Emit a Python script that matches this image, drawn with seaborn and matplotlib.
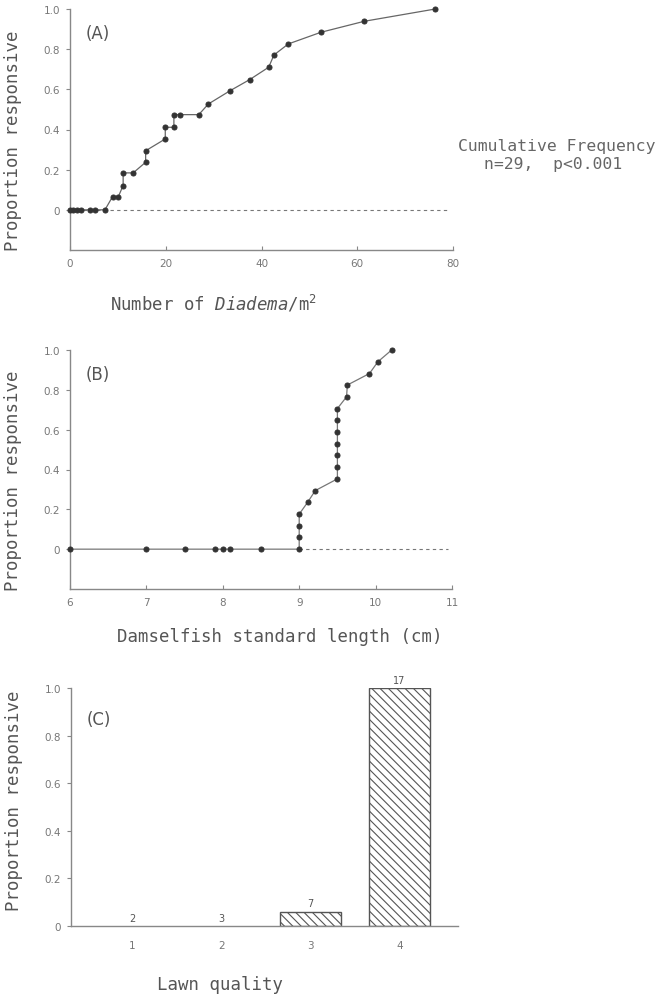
import numpy as np
import pandas as pd
import seaborn as sns
import matplotlib.pyplot as plt

# ---- data ----
# (A) cumulative frequency vs Diadema density
diadema_density = [0, 0.7, 1.5, 2.3, 4.2, 5.2, 7.3, 8.9, 10.1, 11.1, 11.1, 13.2,
                   15.8, 15.8, 19.9, 19.9, 21.7, 21.7, 22.9, 26.9, 28.9, 33.5,
                   37.5, 41.5, 42.6, 45.6, 52.4, 61.5, 76.3]
diadema_prop = [0, 0, 0, 0, 0, 0, 0, 0.066, 0.066, 0.121, 0.184, 0.184,
                0.237, 0.294, 0.353, 0.411, 0.411, 0.474, 0.474, 0.474, 0.527, 0.594,
                0.648, 0.71, 0.771, 0.826, 0.884, 0.939, 1.0]

# (B) cumulative frequency vs damselfish length
fish_length = [6.0, 7.0, 7.5, 7.9, 8.0, 8.1, 8.5, 9.0, 9.0, 9.0, 9.0, 9.11, 9.21,
               9.5, 9.5, 9.5, 9.5, 9.5, 9.5, 9.5, 9.62, 9.63, 9.92, 10.03, 10.21]
fish_prop = [0, 0, 0, 0, 0, 0, 0, 0, 0.059, 0.118, 0.176, 0.235, 0.294,
             0.353, 0.412, 0.471, 0.529, 0.588, 0.647, 0.706, 0.765, 0.824, 0.882, 0.941, 1.0]

# (C) proportion responsive by lawn quality
lawn_quality = ['1', '2', '3', '4']
lawn_prop = [0, 0, 0.06, 1.0]
lawn_n = [2, 3, 7, 17]

yticks = [0, 0.2, 0.4, 0.6, 0.8, 1.0]
ytick_labels = ['0', '0.2', '0.4', '0.6', '0.8', '1.0']

sns.set_style('ticks')
plt.rcParams['font.family'] = ['DejaVu Sans']
plt.rcParams['hatch.linewidth'] = 0.8

ink = '#555555'
light = '#777777'
mono = 'DejaVu Sans Mono'
plt.rcParams['mathtext.fontset'] = 'custom'
plt.rcParams['mathtext.rm'] = mono
plt.rcParams['mathtext.it'] = 'DejaVu Sans Mono:oblique'

fig = plt.figure(figsize=(6.63, 9.95), dpi=100)
axA = fig.add_axes([70 / 663, 1 - 251 / 995, 383 / 663, 241 / 995])
axB = fig.add_axes([70 / 663, 1 - 590 / 995, 382 / 663, 239 / 995])
axC = fig.add_axes([71 / 663, 1 - 927 / 995, 387 / 663, 238 / 995])


def style_axis(ax):
    sns.despine(ax=ax)
    for s in ['left', 'bottom']:
        ax.spines[s].set_color('#888888')
        ax.spines[s].set_linewidth(1.0)
    ax.tick_params(axis='y', direction='out', length=3, width=0.8, color='#888888',
                   labelsize=7.5, labelcolor=light, pad=4)
    ax.tick_params(axis='x', direction='in', length=3, width=0.8, color='#888888',
                   labelsize=7.5, labelcolor=light, pad=6)
    ax.set_yticks(yticks)
    ax.set_yticklabels(ytick_labels)
    for line in ax.lines:
        line.set_clip_on(False)


def ylab(ax, y):
    ax.set_ylabel('Proportion responsive', fontsize=12.5, family=mono, color=ink)
    ax.yaxis.set_label_coords(-0.125, y)


# ---- (A) ----
dfA = pd.DataFrame({'density': diadema_density, 'prop': diadema_prop})
axA.hlines(0, 0, 78.7, colors='#777777', linestyles=(0, (3, 3)), linewidth=0.8, zorder=1)
sns.lineplot(data=dfA, x='density', y='prop', ax=axA, sort=False, estimator=None,
             color='#666666', linewidth=0.9, marker='o', markersize=3.6,
             markerfacecolor='#333333', markeredgecolor='#333333', zorder=3)
axA.set_xlim(0, 80)
axA.set_ylim(-0.2, 1.0)
axA.set_xticks([0, 20, 40, 60, 80])
style_axis(axA)
axA.set_xlabel(r'Number of $\mathit{Diadema}$/m$^{\mathrm{2}}$', fontsize=12.5,
               family=mono, color=ink)
axA.xaxis.set_label_coords(0.376, -0.175)
ylab(axA, 0.456)
axA.text(0.04, 0.9, '(A)', transform=axA.transAxes, fontsize=12, color=ink,
         ha='left', va='center')
fig.text(557 / 663, 1 - 147 / 995, 'Cumulative Frequency', fontsize=11.8, family=mono,
         color='#666666', ha='center', va='center')
fig.text(553 / 663, 1 - 165 / 995, 'n=29,  p<0.001', fontsize=11.8, family=mono,
         color='#666666', ha='center', va='center')

# ---- (B) ----
dfB = pd.DataFrame({'length': fish_length, 'prop': fish_prop})
axB.hlines(0, 9.0, 10.95, colors='#777777', linestyles=(0, (3, 3)), linewidth=0.8, zorder=1)
sns.lineplot(data=dfB, x='length', y='prop', ax=axB, sort=False, estimator=None,
             color='#777777', linewidth=0.9, marker='o', markersize=3.6,
             markerfacecolor='#333333', markeredgecolor='#333333', zorder=3)
axB.set_xlim(6, 11)
axB.set_ylim(-0.2, 1.0)
axB.set_xticks([6, 7, 8, 9, 10, 11])
style_axis(axB)
axB.set_xlabel('Damselfish standard length (cm)', fontsize=12.5, family=mono, color=ink)
axB.xaxis.set_label_coords(0.55, -0.16)
ylab(axB, 0.456)
axB.text(0.04, 0.9, '(B)', transform=axB.transAxes, fontsize=12, color=ink,
         ha='left', va='center')

# ---- (C) ----
dfC = pd.DataFrame({'quality': lawn_quality, 'prop': lawn_prop, 'n': lawn_n})
sns.barplot(data=dfC, x='quality', y='prop', ax=axC, order=lawn_quality, width=0.68,
            color='white', edgecolor='#555555', linewidth=1.0, hatch='\\\\\\\\')
for patch, n in zip(axC.patches, lawn_n):
    if patch.get_height() == 0:
        patch.set_edgecolor('none')
    axC.text(patch.get_x() + patch.get_width() / 2, patch.get_height() + 0.035, str(n),
             ha='center', va='center', fontsize=7, color=ink)
axC.set_xlim(-0.69, 3.66)
axC.set_ylim(0, 1.0)
style_axis(axC)
axC.tick_params(axis='x', length=0, pad=10)
axC.set_xlabel('Lawn quality', fontsize=12.5, family=mono, color=ink)
axC.xaxis.set_label_coords(0.385, -0.205)
ylab(axC, 0.53)
axC.text(0.04, 0.87, '(C)', transform=axC.transAxes, fontsize=12, color=ink,
         ha='left', va='center')

fig.savefig('out.png', dpi=100)
